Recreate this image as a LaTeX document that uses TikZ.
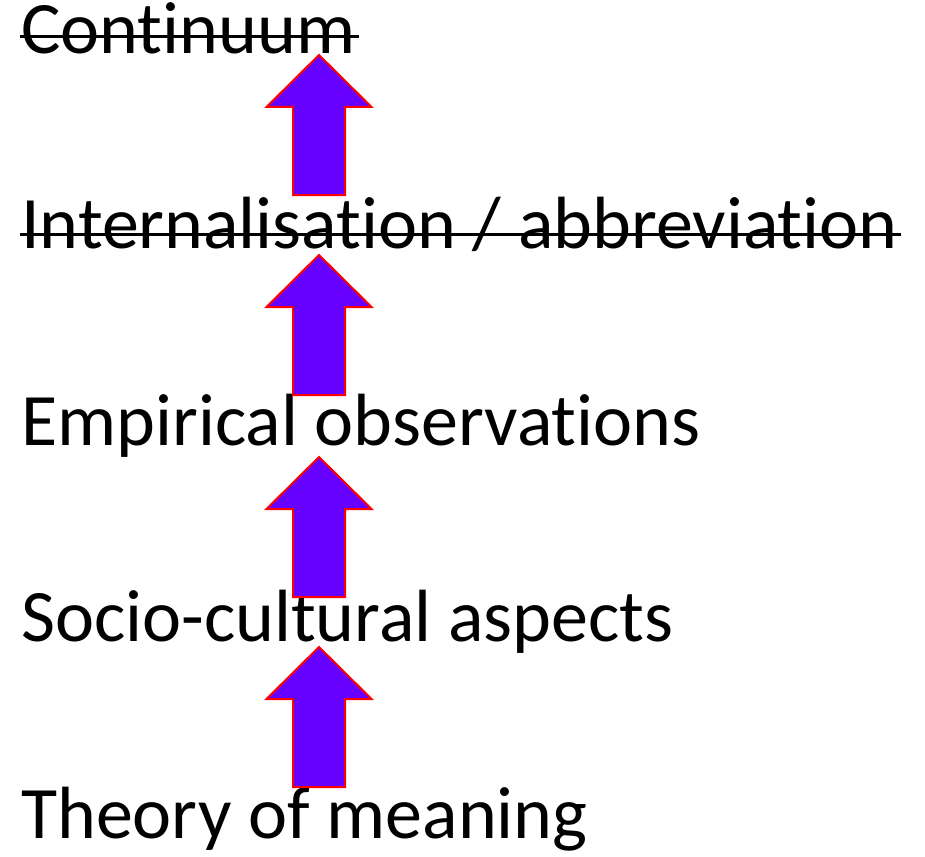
\documentclass[tikz,border=0pt]{standalone}
\usepackage{fontspec}
\setmainfont{Carlito}[Ligatures=NoCommon]
\definecolor{arrowfill}{HTML}{6600FF}
\newcommand\tiSep{t\kern0pt i}
\begin{document}
\begin{tikzpicture}[x=1pt,y=-1pt,
  lbl/.style={anchor=base west,inner sep=0pt,font=\fontsize{74}{80}\selectfont},
  strike/.style={line width=3pt,black},
  uparrow/.pic={\draw[fill=arrowfill,draw=red,line width=2pt,line join=miter]
     (0,0) -- (52.5,52) -- (26,52) -- (26,140) -- (-26,140) -- (-26,52) -- (-52.5,52) -- cycle;}]
\useasboundingbox (0,0) rectangle (925,856);
\node[lbl] (t1) at (21,54) {Con\tiSep nuum};
\node[lbl] (t2) at (21,248) {Internalisa\tiSep on / abbrevia\tiSep on};
\node[lbl] (t3) at (21,445) {Empirical observa\tiSep ons};
\node[lbl] (t4) at (21,641) {Socio-cultural aspects};
\node[lbl] (t5) at (21,838) {Theory of meaning};
\coordinate (s1a) at ([xshift=-1pt,yshift=17pt]t1.base west);
\coordinate (s1b) at ([xshift=3pt,yshift=17pt]t1.base east);
\draw[strike] (s1a) -- (s1b);
\coordinate (s2a) at ([xshift=-1pt,yshift=14pt]t2.base west);
\coordinate (s2b) at ([xshift=3pt,yshift=14pt]t2.base east);
\draw[strike] (s2a) -- (s2b);
\pic at (319,55) {uparrow};
\pic at (319,255) {uparrow};
\pic at (319,457) {uparrow};
\pic at (319,647) {uparrow};
\end{tikzpicture}
\end{document}
